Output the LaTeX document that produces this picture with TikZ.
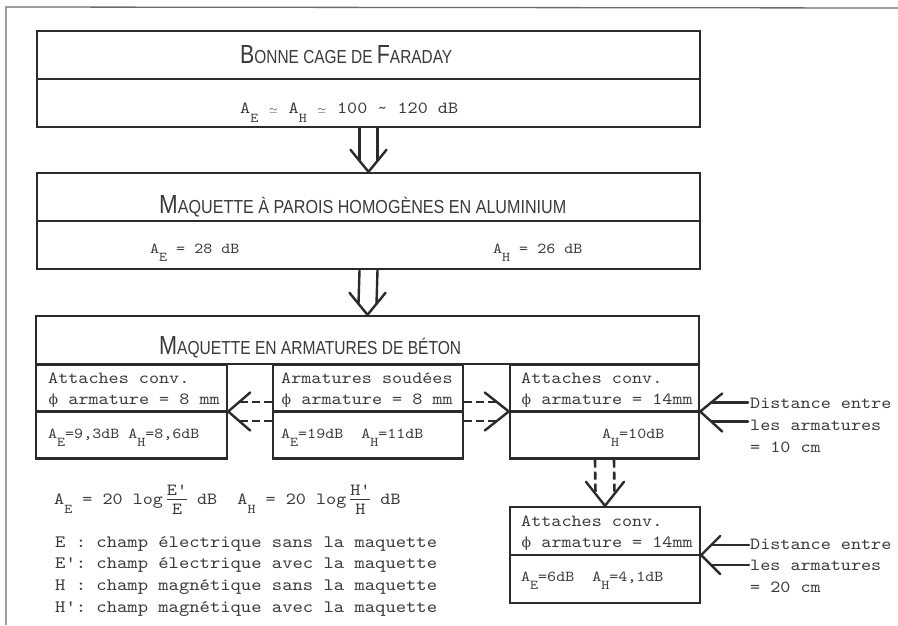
\documentclass[tikz,border=0pt]{standalone}
\usepackage{fontspec}
\usepackage{graphicx}
\usetikzlibrary{calc}
\newfontfamily\mono{lmmono10-regular.otf}[FakeStretch=1.13, Ligatures=TeXOff]
\newfontfamily\tfont{Liberation Sans}
\newfontfamily\phifont{DejaVu Serif}
\definecolor{ink}{HTML}{2B2B2B}
\definecolor{txt}{HTML}{3A3A3A}
\definecolor{frm}{HTML}{6A6A6A}
\newcommand\TBig[1]{{\fontsize{25}{25}\selectfont #1}}
\newcommand\TSm[1]{{\fontsize{18}{18}\selectfont #1}}
\newcommand\Sb[1]{\raisebox{-0.58em}{\fontsize{13.5}{13.5}\selectfont #1}}
\newcommand\AsubE{A\Sb{E}}
\newcommand\AsubH{A\Sb{H}}
\newcommand\Ph{\makebox[0.6em]{\phifont\fontsize{14}{14}\selectfont ϕ}}
\newcommand\Sim{\makebox[0.6em]{\fontsize{11}{11}\selectfont$\simeq$}}
\newcommand\Fr[2]{\hbox{\kern4pt\rlap{\makebox[20pt]{\raisebox{9pt}{#1}}}\rlap{\makebox[20pt]{\raisebox{-10pt}{#2}}}\raisebox{4.5pt}{\rule{20pt}{0.9pt}}}}
\newcommand\MonoA{\mono\fontsize{17}{21}\selectfont}
\newcommand\MonoB{\mono\fontsize{15.2}{21}\selectfont}
\begin{document}
\begin{tikzpicture}[x=1pt,y=-1pt,
  every node/.style={text=txt, inner sep=0pt},
  box/.style={draw=ink, line width=2.4pt, inner sep=0pt},
  arr/.style={draw=ink, line width=2.4pt, line join=round, line cap=round},
  darr/.style={draw=ink, line width=2.6pt, dash pattern=on 8pt off 4pt},
  tx/.style={anchor=base west, text=txt}]
\fill[white] (0,0) rectangle (898,625);
\useasboundingbox (0,0) rectangle (898,625);
% frame
\draw[frm, line width=1.3pt] (6,625) -- (6,7) -- (898,8);

% main boxes
\node[box, minimum width=663pt, minimum height=96pt] (b1) at (368.5,79) {};
\draw[ink, line width=2.4pt] (b1.west) -- (b1.east);
\node[box, minimum width=663pt, minimum height=96pt] (b2) at (368.5,221) {};
\draw[ink, line width=2.4pt] (b2.west) -- (b2.east);
\node[box, minimum width=663pt, minimum height=48pt] (b3) at (367.5,340) {};

% sub boxes
\node[box, minimum width=191pt, minimum height=94pt] (s1) at (131.5,411.5) {};
\draw[ink, line width=2.4pt] (s1.west) -- (s1.east);
\node[box, minimum width=190pt, minimum height=94pt] (s2) at (368,411.5) {};
\draw[ink, line width=2.4pt] (s2.west) -- (s2.east);
\node[box, minimum width=189pt, minimum height=94pt] (s3) at (604.5,411.5) {};
\draw[ink, line width=2.4pt] (s3.west) -- (s3.east);
\node[box, minimum width=190pt, minimum height=96pt] (s4) at (605,555) {};
\draw[ink, line width=2.4pt] (s4.west) -- (s4.east);

% titles
\node[tx] (t1) at (240,63) {\resizebox{212pt}{18pt}{\tfont\TBig{B}\TSm{ONNE CAGE DE }\TBig{F}\TSm{ARADAY}}};
\node[tx] (t2) at (159,213) {\resizebox{407pt}{18pt}{\tfont\TBig{M}\TSm{AQUETTE À PAROIS HOMOGÈNES EN ALUMINIUM}}};
\node[tx] (t3) at (159,354) {\resizebox{302pt}{18pt}{\tfont\TBig{M}\TSm{AQUETTE EN ARMATURES DE BÉTON}}};

% values in main boxes
\node[tx] (v1) at (240,113) {\MonoA \AsubE{} \Sim{} \AsubH{} \Sim{} 100 \textasciitilde{} 120 dB};
\node[tx] (v2a) at (150,253) {\MonoB \AsubE{} = 28 dB};
\node[tx] (v2b) at (493,253) {\MonoB \AsubH{} = 26 dB};

% sub box texts
\node[tx] (x1) at (48,383) {\MonoA\begin{tabular}[t]{@{}l@{}}Attaches conv.\\\Ph{} armature = 8 mm\end{tabular}};
\node[tx] (y1) at (48,438) {\MonoB \AsubE=9,3dB \AsubH=8,6dB};
\node[tx] (x2) at (281,383) {\MonoA\begin{tabular}[t]{@{}l@{}}Armatures soudées\\\Ph{} armature = 8 mm\end{tabular}};
\node[tx] (y2) at (281,438) {\MonoB \AsubE=19dB\ \ \AsubH=11dB};
\node[tx] (x3) at (521,383) {\MonoA\begin{tabular}[t]{@{}l@{}}Attaches conv.\\\Ph{} armature = 14mm\end{tabular}};
\node[tx] (y3) at (602,438) {\MonoB \AsubH=10dB};
\node[tx] (x4) at (521,526) {\MonoA\begin{tabular}[t]{@{}l@{}}Attaches conv.\\\Ph{} armature = 14mm\end{tabular}};
\node[tx] (y4) at (521,581) {\MonoB \AsubE=6dB\ \ \AsubH=4,1dB};

% side labels
\node[tx] (d1) at (750,408) {\mono\fontsize{17}{22}\selectfont\begin{tabular}[t]{@{}l@{}}Distance entre\\les armatures\\= 10 cm\end{tabular}};
\node[tx] (d2) at (750,549) {\mono\fontsize{17}{21.5}\selectfont\begin{tabular}[t]{@{}l@{}}Distance entre\\les armatures\\= 20 cm\end{tabular}};

% formula and legend
\node[tx] (f) at (54,504) {\MonoA \AsubE{} = 20 log\Fr{E'}{E}\ dB\ \ \AsubH{} = 20 log\Fr{H'}{H}\ dB};
\node[tx] (lg) at (55,547) {\mono\fontsize{17.4}{21.7}\selectfont\begin{tabular}[t]{@{}l@{}}E : champ électrique sans la maquette\\E': champ électrique avec la maquette\\H : champ magnétique sans la maquette\\H': champ magnétique avec la maquette\end{tabular}};

% hollow double arrows b1 -> b2 -> b3
\draw[arr] ($(b1.south)+(-9,0)$) -- ($(b2.north)+(-9,-11)$);
\draw[arr] ($(b1.south)+(9,0)$) -- ($(b2.north)+(9,-11)$);
\draw[arr] ($(b2.north)+(-18,-22)$) -- (b2.north) -- ($(b2.north)+(18,-22)$);
\draw[arr] ($(b2.south)+(-9,0)$) -- ($(b3.north)+(-9,-11)$);
\draw[arr] ($(b2.south)+(9,0)$) -- ($(b3.north)+(9,-11)$);
\draw[arr] ($(b3.north)+(-18,-22)$) -- (b3.north) -- ($(b3.north)+(18,-22)$);

% dashed arrow s2 -> s1
\draw[darr] ($(s2.west)+(0,-9.5)$) -- ($(s1.east)+(11,-9.5)$);
\draw[darr] ($(s2.west)+(0,9.5)$) -- ($(s1.east)+(11,9.5)$);
\draw[arr] ($(s1.east)+(22,-19)$) -- (s1.east) -- ($(s1.east)+(22,19)$);
% dashed arrow s2 -> s3
\draw[darr] ($(s2.east)+(0,-9.5)$) -- ($(s3.west)+(-12,-9.5)$);
\draw[darr] ($(s2.east)+(0,9.5)$) -- ($(s3.west)+(-12,9.5)$);
\draw[arr] ($(s3.west)+(-24,-19)$) -- (s3.west) -- ($(s3.west)+(-24,19)$);
% dashed arrow s3 -> s4
\draw[darr] ($(s3.south)+(-9.5,0)$) -- ($(s4.north)+(-9.5,-12)$);
\draw[darr] ($(s3.south)+(9.5,0)$) -- ($(s4.north)+(9.5,-12)$);
\draw[arr] ($(s4.north)+(-19,-24)$) -- (s4.north) -- ($(s4.north)+(19,-24)$);

% label arrows
\coordinate (u1) at ($(s3.east)+(0,-9)$);
\coordinate (l1) at ($(s3.east)+(0,10)$);
\draw[arr] ($(d1.west |- u1)+(-2,0)$) -- ($(s3.east)+(11,-9)$);
\draw[arr] ($(d1.west |- l1)+(-2,0)$) -- ($(s3.east)+(12,10)$);
\draw[arr] ($(s3.east)+(22,-18)$) -- (s3.east) -- ($(s3.east)+(22,20)$);
\coordinate (u2) at ($(s4.east)+(0,-10)$);
\coordinate (l2) at ($(s4.east)+(0,10)$);
\draw[arr] ($(d2.west |- u2)+(-1,0)$) -- ($(s4.east)+(10,-10)$);
\draw[arr] ($(d2.west |- l2)+(-1,0)$) -- ($(s4.east)+(10,10)$);
\draw[arr] ($(s4.east)+(19,-19)$) -- (s4.east) -- ($(s4.east)+(19,19)$);
\end{tikzpicture}
\end{document}
